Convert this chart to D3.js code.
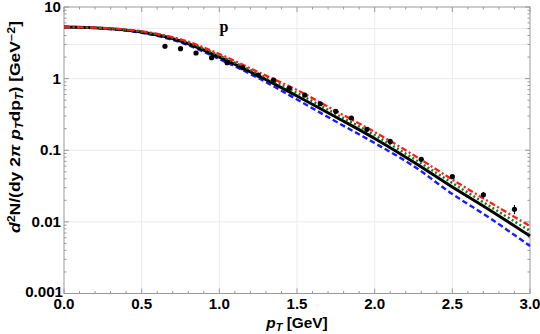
<!DOCTYPE html>
<html>
<head>
<meta charset="utf-8">
<script src="https://cdn.jsdelivr.net/npm/d3@7"></script>
<style>
  body { margin: 0; background: #fff; }
  svg { display: block; }
  text { font-family: "Liberation Sans", Arial, sans-serif; font-weight: bold; }
</style>
</head>
<body>
<script>
// model curves, pT in GeV
const curvePt = [0, 0.25, 0.5, 0.75, 1.0, 1.25, 1.5, 1.75, 2.0, 2.25, 2.5, 2.75, 3.0];
const redCurve = [5.25, 5.09, 4.58, 3.54, 2.21, 1.236, 0.693, 0.353, 0.180, 0.0857, 0.039, 0.0183, 0.00875];
const greenCurve = [5.25, 5.05, 4.52, 3.46, 2.10, 1.167, 0.629, 0.321, 0.163, 0.0766, 0.0349, 0.0161, 0.00745];
const blackCurve = [5.25, 5.04, 4.47, 3.35, 2.00, 1.10, 0.572, 0.291, 0.146, 0.0685, 0.0307, 0.0142, 0.00634];
const blueCurve = [5.30, 5.01, 4.37, 3.21, 1.878, 1.02, 0.511, 0.252, 0.126, 0.0602, 0.0245, 0.0110, 0.0046];

// measured points
const dataPt = [0.65, 0.75, 0.85, 0.95, 1.05, 1.15, 1.25, 1.35, 1.45, 1.55, 1.65, 1.75, 1.85, 1.95, 2.1, 2.3, 2.5, 2.7, 2.9];
const dataY = [2.83, 2.62, 2.28, 1.96, 1.67, 1.42, 1.12, 0.955, 0.732, 0.590, 0.446, 0.349, 0.282, 0.196, 0.133, 0.0746, 0.0427, 0.0239, 0.0150];
const dataErr = [0.15, 0.13, 0.11, 0.09, 0.08, 0.07, 0.05, 0.045, 0.035, 0.028, 0.021, 0.017, 0.014, 0.01, 0.007, 0.004, 0.0028, 0.0023, 0.0022];

const xTicks = [0, 0.5, 1.0, 1.5, 2.0, 2.5, 3.0];
const yTicks = [10, 1, 0.1, 0.01, 0.001];
const yTickLabels = ["10", "1", "0.1", "0.01", "0.001"];
const yGrid = [5, 3, 1, 0.1, 0.01];
const xGrid = [0.5, 1.0, 1.5, 2.0, 2.5];

const width = 540, height = 334;
const pLeft = 64, pRight = 530, pTop = 7, pBottom = 293.5;

const svg = d3.select("body").append("svg")
    .attr("width", width)
    .attr("height", height);

const x = d3.scaleLinear().domain([0, 3]).range([pLeft, pRight]);
const y = d3.scaleLog().domain([0.001, 10]).range([pBottom, pTop]);

// grid
svg.append("g").selectAll("line").data(xGrid).join("line")
    .attr("x1", d => x(d)).attr("x2", d => x(d))
    .attr("y1", pTop).attr("y2", pBottom)
    .attr("stroke", "#ebebeb").attr("stroke-width", 1);
svg.append("g").selectAll("line").data(yGrid).join("line")
    .attr("x1", pLeft).attr("x2", pRight)
    .attr("y1", d => y(d)).attr("y2", d => y(d))
    .attr("stroke", "#ebebeb").attr("stroke-width", 1);

// frame
const frameColor = "#9a9a9a";
svg.append("rect")
    .attr("x", pLeft).attr("y", pTop)
    .attr("width", pRight - pLeft).attr("height", pBottom - pTop)
    .attr("fill", "none").attr("stroke", frameColor).attr("stroke-width", 1);

// ticks, drawn inside the frame
const xMinor = d3.range(0, 30.5).map(i => i / 10);
const ticks = svg.append("g").attr("stroke", frameColor).attr("stroke-width", 1);
xMinor.forEach(v => {
    const major = Math.abs(v * 2 - Math.round(v * 2)) < 1e-6;
    const len = major ? 5 : 2.5;
    ticks.append("line").attr("x1", x(v)).attr("x2", x(v)).attr("y1", pBottom).attr("y2", pBottom - len);
    ticks.append("line").attr("x1", x(v)).attr("x2", x(v)).attr("y1", pTop).attr("y2", pTop + len);
});
const yMinor = [];
[0.001, 0.01, 0.1, 1].forEach(dec => { for (let k = 1; k <= 9; k++) yMinor.push(dec * k); });
yMinor.push(10);
yMinor.forEach(v => {
    const major = yTicks.some(t => Math.abs(t - v) / t < 1e-6);
    const len = major ? 5 : 2.5;
    ticks.append("line").attr("x1", pLeft).attr("x2", pLeft + len).attr("y1", y(v)).attr("y2", y(v));
    ticks.append("line").attr("x1", pRight).attr("x2", pRight - len).attr("y1", y(v)).attr("y2", y(v));
});

// tick labels (glyphs a little wide, as in the reference)
svg.append("g").selectAll("text").data(xTicks).join("text")
    .attr("transform", d => `translate(${x(d)},${pBottom + 15.5}) scale(1.08,1)`)
    .attr("text-anchor", "middle").attr("font-size", 14)
    .text(d => d.toFixed(1));
svg.append("g").selectAll("text").data(yTicks).join("text")
    .attr("transform", (d, i) => `translate(${i === 4 ? pLeft - 1 : pLeft - 3},${y(d) + (i === 4 ? 3.5 : 5)}) scale(1.08,1)`)
    .attr("text-anchor", "end").attr("font-size", 14)
    .text((d, i) => yTickLabels[i]);

// curves
const line = d3.line()
    .x(d => x(d[0])).y(d => y(d[1]))
    .curve(d3.curveCatmullRom);
const series = [
    { vals: blueCurve, color: "#1a1aff", dash: "5.5,3", w: 2.4 },
    { vals: blackCurve, color: "#000", dash: null, w: 3 },
    { vals: greenCurve, color: "#1a7a1a", dash: "2,2.5", w: 2.5 },
    { vals: redCurve, color: "#ff1a1a", dash: "6,2.5,2,2.5", w: 2.3 }
];
series.forEach(s => {
    svg.append("path")
        .datum(curvePt.map((p, i) => [p, s.vals[i]]))
        .attr("d", line)
        .attr("fill", "none")
        .attr("stroke", s.color)
        .attr("stroke-width", s.w)
        .attr("stroke-dasharray", s.dash);
});

// data points with error bars
const pts = svg.append("g");
dataPt.forEach((p, i) => {
    pts.append("line")
        .attr("x1", x(p)).attr("x2", x(p))
        .attr("y1", y(dataY[i] - dataErr[i])).attr("y2", y(dataY[i] + dataErr[i]))
        .attr("stroke", "#000").attr("stroke-width", 1);
    pts.append("circle")
        .attr("cx", x(p)).attr("cy", y(dataY[i])).attr("r", 2.6)
        .attr("fill", "#000");
});

// particle label
svg.append("text")
    .attr("x", 224).attr("y", 32)
    .attr("text-anchor", "middle")
    .attr("font-size", 16)
    .style("font-family", "'Liberation Serif', 'Times New Roman', serif")
    .text("p");

// x axis title
const xt = svg.append("text")
    .attr("transform", "translate(297,328) scale(1.1,1)")
    .attr("text-anchor", "middle").attr("font-size", 14);
xt.append("tspan").attr("font-style", "italic").text("p");
xt.append("tspan").attr("font-style", "italic").attr("font-size", 10).attr("dy", 3).text("T");
xt.append("tspan").attr("dy", -3).text(" [GeV]");

// y axis title, stretched along its length like the reference
const yt = svg.append("text")
    .attr("transform", "translate(20,127) rotate(-90) scale(1.25,1)")
    .attr("text-anchor", "middle").attr("font-size", 14);
yt.append("tspan").attr("font-style", "italic").text("d");
yt.append("tspan").attr("font-size", 10).attr("dy", -5).text("2");
yt.append("tspan").attr("dy", 5).text("N/(dy 2");
yt.append("tspan").attr("font-style", "italic").text("π ");
yt.append("tspan").attr("font-style", "italic").text("p");
yt.append("tspan").attr("font-style", "italic").attr("font-size", 10).attr("dy", 3).text("T");
yt.append("tspan").attr("dy", -3).text("dp");
yt.append("tspan").attr("font-style", "italic").attr("font-size", 10).attr("dy", 3).text("T");
yt.append("tspan").attr("dy", -3).text(") [GeV");
yt.append("tspan").attr("font-size", 10).attr("dy", -5).text("−2");
yt.append("tspan").attr("dy", 5).text("]");
</script>
</body>
</html>
